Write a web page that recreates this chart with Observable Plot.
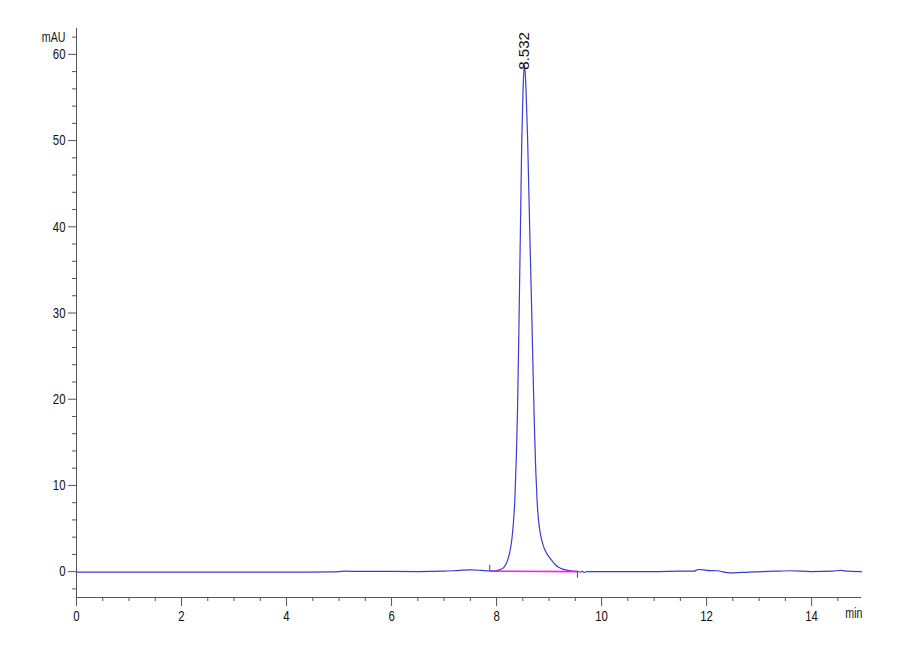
<!DOCTYPE html>
<html>
<head>
<meta charset="utf-8">
<script src="https://cdn.jsdelivr.net/npm/d3@7"></script>
<script src="https://cdn.jsdelivr.net/npm/@observablehq/plot@0.6"></script>
<style>
  html, body { margin: 0; padding: 0; background: #fff; }
  #chart { width: 900px; height: 660px; }
</style>
</head>
<body>
<div id="chart"></div>
<script>
// Chromatogram trace: retention time (min) and absorbance (mAU)
const time = [0, 1, 2, 3, 4, 4.9, 5.1, 5.5, 6.0, 6.5, 7.0, 7.3, 7.5, 7.7, 7.87, 7.95,
  8.05, 8.14, 8.21, 8.25, 8.29, 8.32, 8.35, 8.38, 8.4, 8.43, 8.46, 8.48, 8.505, 8.532,
  8.56, 8.59, 8.63, 8.67, 8.70, 8.72, 8.745, 8.77, 8.79, 8.81, 8.84, 8.88, 8.93, 8.99, 9.05, 9.12, 9.18,
  9.3, 9.42, 9.54, 9.6, 9.63, 9.67, 9.72, 10, 10.5, 11, 11.5, 11.75, 11.85, 12.0,
  12.2, 12.45, 12.8, 13.3, 13.6, 14.0, 14.4, 14.55, 14.7, 14.95];
const mAU = [-0.05, -0.05, -0.05, -0.05, -0.05, -0.03, 0.05, 0.02, 0.02, 0.0, 0.05, 0.15, 0.2, 0.15, 0.08, 0.08,
  0.2, 0.5, 1.3, 2.2, 3.7, 5.6, 8.6, 14, 19, 30, 42, 50, 56, 58.8,
  56, 50.5, 40, 30, 22, 17, 12, 8.4, 6.6, 5.4, 4.2, 3.2, 2.4, 1.8, 1.3, 0.8, 0.5,
  0.23, 0.08, 0.02, -0.05, 0.05, -0.1, 0.0, 0.0, 0.0, 0.0, 0.05, 0.05, 0.25, 0.15,
  0.1, -0.15, -0.05, 0.05, 0.1, 0.0, 0.05, 0.15, 0.05, 0.0];

// Integration baseline of the peak
const baseTime = [7.87, 9.54];
const baseValue = [0.05, 0.0];

// Peak annotation
const peakTime = [8.532];
const peakHeight = [58.8];
const peakLabel = ["8.532"];

// Ticks
const xMajor = [0, 2, 4, 6, 8, 10, 12, 14];
const xMinor = [0.5, 1, 1.5, 2.5, 3, 3.5, 4.5, 5, 5.5, 6.5, 7, 7.5, 8.5, 9, 9.5, 10.5, 11, 11.5, 12.5, 13, 13.5, 14.5];
const yMajor = [0, 10, 20, 30, 40, 50, 60];
const yMinor = [-2, 2, 4, 6, 8, 12, 14, 16, 18, 22, 24, 26, 28, 32, 34, 36, 38, 42, 44, 46, 48, 52, 54, 56, 58, 62];

const xDomain = [0, 14.95];
const yDomain = [-3, 63];

const trace = time.map((t, i) => ({t, v: mAU[i]}));
const base = baseTime.map((t, i) => ({t, v: baseValue[i]}));
const peaks = peakTime.map((t, i) => ({t, v: peakHeight[i], label: peakLabel[i]}));

const font = "'Liberation Sans', Arial, sans-serif";
const axisColor = "#555";

const chart = Plot.plot({
  width: 900,
  height: 660,
  marginLeft: 76,
  marginRight: 39,
  marginTop: 28,
  marginBottom: 63,
  style: {fontFamily: font, fontSize: "15px", background: "white", color: "black"},
  x: {domain: xDomain, axis: null},
  y: {domain: yDomain, axis: null},
  marks: [
    // axis lines
    Plot.ruleX([xDomain[0]], {y1: yDomain[0], y2: yDomain[1], stroke: axisColor, strokeWidth: 1}),
    Plot.ruleY([yDomain[0]], {x1: xDomain[0], x2: xDomain[1], stroke: axisColor, strokeWidth: 1}),
    // x axis ticks
    Plot.axisX(xMajor, {anchor: "bottom", tickSize: 9, tickPadding: 4, stroke: axisColor, fill: "#111", fontSize: 15, label: null}),
    Plot.axisX(xMinor, {anchor: "bottom", tickSize: 4, tickFormat: () => "", stroke: axisColor, label: null}),
    // y axis ticks
    Plot.axisY(yMajor, {anchor: "left", tickSize: 8, tickPadding: 3, stroke: axisColor, fill: "#111", fontSize: 15, label: null}),
    Plot.axisY(yMinor, {anchor: "left", tickSize: 4, tickFormat: () => "", stroke: axisColor, label: null}),
    // axis titles
    Plot.text(["mAU"], {x: xDomain[0], y: 62, dx: -11, textAnchor: "end", fontSize: 14, fill: "#111"}),
    Plot.text(["min"], {frameAnchor: "bottom-right", dy: 20, dx: 1, textAnchor: "end", fontSize: 14, fill: "#111"}),
    // trace
    Plot.line(trace, {x: "t", y: "v", stroke: "#3b3bd6", strokeWidth: 1.2, curve: "monotone-x"}),
    // integration baseline (drawn over the trace)
    Plot.line(base, {x: "t", y: "v", stroke: "#ff1cf0", strokeWidth: 1.6}),
    Plot.ruleX([baseTime[0]], {y1: baseValue[0], y2: 0.75, stroke: "#444", strokeWidth: 1}),
    Plot.ruleX([baseTime[1]], {y1: baseValue[1], y2: -0.75, stroke: "#444", strokeWidth: 1}),
    // peak label
    Plot.text(peaks, {x: "t", y: "v", text: "label", rotate: -90, textAnchor: "start", dy: 5, fontSize: 15, fill: "#111"})
  ]
});

// Condense the axis lettering horizontally (the reference uses a narrow face)
chart.querySelectorAll("text").forEach((t) => {
  const tr = t.getAttribute("transform") || "";
  if (tr.includes("rotate")) return;
  if (tr) {
    t.setAttribute("transform", tr + " scale(0.76,1)");
  } else {
    const x = +t.getAttribute("x") || 0, y = +t.getAttribute("y") || 0;
    t.removeAttribute("x"); t.removeAttribute("y");
    t.setAttribute("transform", `translate(${x},${y}) scale(0.76,1)`);
  }
});

document.getElementById("chart").appendChild(chart);
</script>
</body>
</html>
